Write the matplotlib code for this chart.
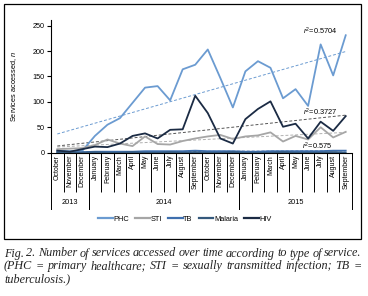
import numpy as np
import matplotlib
matplotlib.use("Agg")
import matplotlib.pyplot as plt
from matplotlib.patches import Rectangle
from matplotlib.lines import Line2D

months = ["October", "November", "December",
          "January", "February", "March", "April", "May", "June", "July",
          "August", "September", "October", "November", "December",
          "January", "February", "March", "April", "May", "June", "July",
          "August", "September"]
years = ["2013", "2014", "2015"]
year_spans = [(0, 2), (3, 14), (15, 23)]

phc = [4, 3, 4, 33, 55, 68, 98, 128, 131, 103, 164, 173, 203, 147, 89,
       160, 180, 167, 107, 125, 92, 213, 152, 231]
sti = [7, 8, 9, 15, 26, 18, 13, 32, 17, 16, 23, 28, 32, 35, 27,
       32, 34, 40, 22, 33, 26, 50, 30, 41]
tb = [1, 1, 1, 2, 2, 2, 2, 3, 3, 3, 3, 4, 3, 3, 3,
      2, 2, 3, 3, 3, 3, 3, 4, 4]
malaria = [0, 0, 0, 1, 0, 0, 1, 0, 0, 1, 0, 1, 0, 0, 1,
           0, 0, 0, 1, 0, 0, 0, 1, 0]
hiv = [4, 2, 7, 12, 11, 18, 33, 38, 28, 45, 46, 112, 78, 28, 18,
       66, 86, 101, 51, 57, 28, 61, 43, 72]

r2_labels = {"PHC": "0.5704", "HIV": "0.3727", "TB": "0.575"}

caption = [
    "Fig. 2. Number of services accessed over time according to type of service.",
    "(PHC = primary healthcare; STI = sexually transmitted infection; TB =",
    "tuberculosis.)",
]

C_PHC = "#6b9bd1"
C_STI = "#a6a6a6"
C_TB = "#3f6fae"
C_MAL = "#35597c"
C_HIV = "#1b2b44"

W, H = 368, 296
plt.rcParams["font.family"] = "Liberation Sans"
plt.rcParams["mathtext.fontset"] = "custom"
plt.rcParams["mathtext.it"] = "Liberation Sans:italic"
plt.rcParams["mathtext.rm"] = "Liberation Sans"

fig = plt.figure(figsize=(W / 100, H / 100), dpi=100)

# plot area in pixels: x 51..352, y 20..152.7
ax = fig.add_axes([51 / W, 1 - 152.7 / H, (352 - 51) / W, (152.7 - 20) / H])
x = np.arange(len(months))

ax.plot(x, phc, color=C_PHC, lw=1.3, zorder=3)
ax.plot(x, sti, color=C_STI, lw=1.3, zorder=3)
ax.plot(x, tb, color=C_TB, lw=1.3, zorder=3)
ax.plot(x, malaria, color=C_MAL, lw=1.3, zorder=3)
ax.plot(x, hiv, color=C_HIV, lw=1.3, zorder=4)

# linear trend lines
for series, col in [(phc, C_PHC), (sti, "#b0b0b0"), (hiv, "#555555"), (tb, C_TB)]:
    k, b = np.polyfit(x, series, 1)
    ax.plot(x, k * x + b, color=col, lw=0.7, ls=(0, (3, 2)), zorder=2)

ax.text(20.95, 238, r"$r^2$=" + r2_labels["PHC"], fontsize=5.3, ha="center", va="center")
ax.text(20.95, 79, r"$r^2$=" + r2_labels["HIV"], fontsize=5.3, ha="center", va="center")
ax.text(20.7, 13, r"$r^2$=" + r2_labels["TB"], fontsize=5.3, ha="center", va="center")

ax.set_xlim(-0.5, 23.5)
ax.set_ylim(0, 261)
ax.set_yticks(range(0, 251, 50))
ax.tick_params(axis="y", length=3, width=0.8, pad=1.5, labelsize=5.2)
ax.set_ylabel("Services accessed, $n$", fontsize=5.3)
ax.yaxis.set_label_coords(-0.106, 0.5)

for s in ["top", "right"]:
    ax.spines[s].set_visible(False)
for s in ["left", "bottom"]:
    ax.spines[s].set_linewidth(0.8)

# category axis: boundaries as long ticks, month names as minor labels
ax.set_xticks(np.arange(-0.5, 24, 1))
ax.set_xticklabels([])
ax.tick_params(axis="x", which="major", length=28, width=0.7, direction="out")
ax.set_xticks(x, minor=True)
ax.set_xticklabels(months, minor=True, rotation=90, fontsize=5.0)
ax.tick_params(axis="x", which="minor", length=0, pad=1.5)

ax_h = 152.7 - 20
tr = ax.get_xaxis_transform()
for a, b in year_spans:
    for edge in (a - 0.5, b + 0.5):
        ax.add_line(Line2D([edge, edge], [0, -56 / ax_h], transform=tr,
                           color="black", lw=0.7, clip_on=False))
for (a, b), yr in zip(year_spans, years):
    ax.text((a + b) / 2, -(203 - 152.7) / ax_h, yr, transform=tr,
            ha="center", va="center", fontsize=5.3)

handles = [Line2D([], [], color=c, lw=1.6) for c in [C_PHC, C_STI, C_TB, C_MAL, C_HIV]]
fig.legend(handles, ["PHC", "STI", "TB", "Malaria", "HIV"], loc="center",
           bbox_to_anchor=(185 / W, 1 - 219 / H), ncol=5, frameon=False,
           fontsize=5.3, handlelength=2.0, handletextpad=0.1, columnspacing=0.8)

# border around the chart
fig.patches.append(Rectangle((4 / W, 1 - 239 / H), (361 - 4) / W, (239 - 4) / H,
                             transform=fig.transFigure, fill=False,
                             edgecolor="black", lw=0.9))

# caption, justified by hand
renderer = fig.canvas.get_renderer()
cap_kw = dict(fontfamily="Liberation Serif", fontstyle="italic", fontsize=8.7,
              color="#222222", va="baseline", ha="left")
baselines = [256.5, 269.3, 282.0]
for i, (line, yb) in enumerate(zip(caption, baselines)):
    yy = 1 - yb / H
    if i == len(caption) - 1:
        fig.text(4 / W, yy, line, **cap_kw)
        continue
    words = line.split(" ")
    texts = [fig.text(0, yy, w, **cap_kw) for w in words]
    widths = [t.get_window_extent(renderer).width for t in texts]
    gap = (361.5 - 4 - sum(widths)) / (len(words) - 1)
    pos = 4.0
    for t, w in zip(texts, widths):
        t.set_x(pos / W)
        pos += w + gap

fig.savefig("out.png", dpi=100)
